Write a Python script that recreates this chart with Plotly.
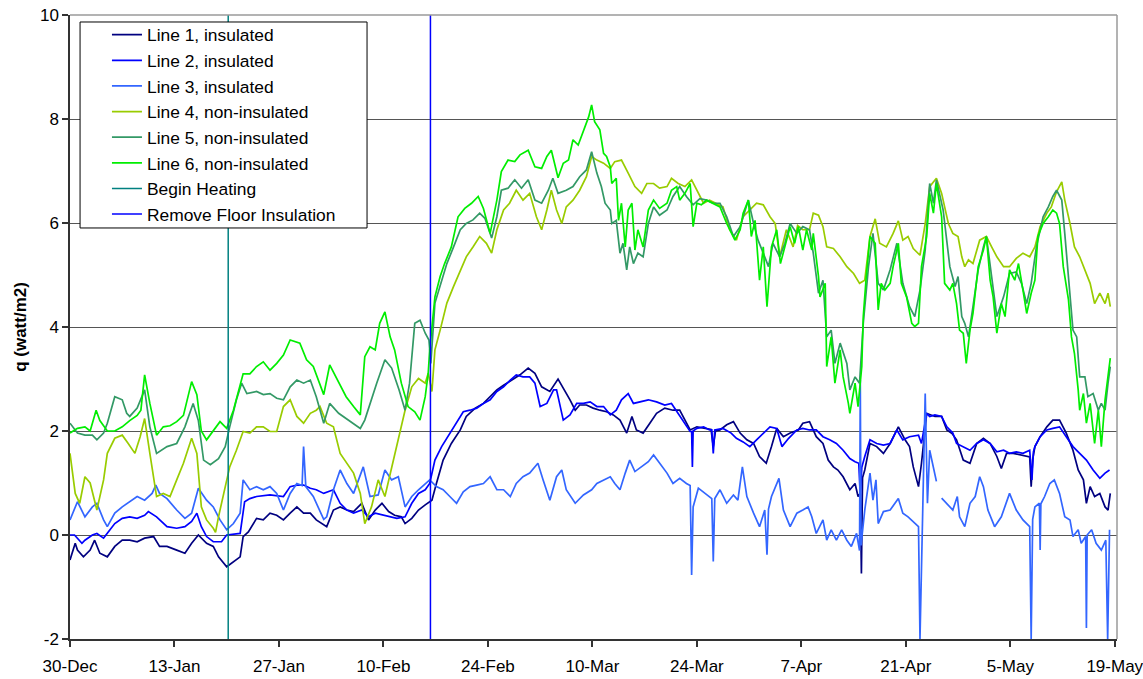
import pandas as pd
import plotly.graph_objects as go

# Heat flux through the floor, q (W/m2), per measurement line.
# Each series is a list of (days since 30-Dec, q) readings.
START = pd.Timestamp("2002-12-30")

line1 = [(0,-0.48),(0.7,-0.16),(1,-0.29),(1.8,-0.42),(2.7,-0.29),(3.3,-0.1),(4,-0.35),(5,-0.42),(6,-0.22),(7,-0.1),(8,-0.1),(9,-0.13),(10,-0.06),(11.2,-0.03),(12,-0.22),(13,-0.22),(14.3,-0.29),(15.4,-0.35),(16.3,-0.16),(17.2,0),(18.3,-0.16),(19.2,-0.22),(19.9,-0.42),(21,-0.61),(22.8,-0.42),(23.2,-0.03),(23.9,0.06),(25,0.32),(25.9,0.29),(26.8,0.42),(27.7,0.38),(28.6,0.29),(29.5,0.42),(30.4,0.54),(31.3,0.42),(32.2,0.42),(33,0.29),(34.4,0.16),(35.3,0.48),(36.2,0.54),(37.1,0.48),(38,0.45),(39.1,0.61),(40,0.29),(40.9,0.48),(41.8,0.61),(42.7,0.45),(43.5,0.38),(44.4,0.35),(44.9,0.22),(45.8,0.32),(46.7,0.48),(47.6,0.58),(48.5,0.67),(49.1,0.99),(50,1.44),(51.1,1.76),(52.3,2.02),(53.1,2.28),(54.3,2.44),(55.4,2.53),(56.3,2.66),(57.2,2.79),(58.1,2.88),(59.2,2.98),(60.3,3.08),(61.4,3.21),(62.3,3.11),(63.2,2.85),(64.3,2.76),(65.4,3.0),(66.3,2.79),(67,2.6),(67.7,2.4),(68.3,2.5),(69.2,2.5),(70.1,2.44),(71,2.4),(71.9,2.37),(72.8,2.31),(73.7,2.21),(74.6,1.96),(75.3,2.28),(75.9,2.02),(76.8,1.96),(77.7,2.15),(78.6,2.34),(79.7,2.44),(80.8,2.4),(81.7,2.4),(82.4,2.21),(83.1,2.02),(84,2.08),(84.9,2.05),(85.9,2.03),(86.2,1.7),(86.5,2.0),(87.1,2.02),(88,2.12),(88.9,2.18),(89.8,1.96),(90.7,1.83),(91.6,1.76),(92.4,1.51),(93.3,1.38),(94,1.7),(94.7,2.05),(95.6,1.89),(96.5,1.96),(97.6,2.02),(98.2,2.15),(99.1,2.18),(100,1.89),(100.9,1.76),(101.6,1.44),(102.3,1.31),(102.9,1.25),(103.6,1.12),(104.5,0.87),(105.2,0.99),(105.6,0.74),(105.9,0.8),(106.05,-0.74),(106.2,1.1),(106.5,1.25),(107.2,1.76),(108.1,1.7),(109,1.57),(109.9,1.76),(111,2.08),(111.9,1.83),(112.5,1.7),(113,1.31),(113.7,0.93),(114.1,1.38),(114.8,2.34),(115.9,2.28),(116.8,2.28),(117.5,2.02),(118.2,1.95),(118.8,1.83),(119.7,1.44),(120.6,1.38),(121.5,1.76),(122.4,1.86),(123.3,1.76),(124.2,1.51),(124.8,1.28),(125.5,1.57),(126.4,1.57),(127.3,1.54),(128.2,1.51),(128.6,1.5),(128.8,0.93),(129.0,1.45),(129.3,1.7),(130,1.89),(130.9,2.08),(131.7,2.21),(132.6,2.21),(133.5,1.96),(134.4,1.63),(135.1,1.25),(135.8,1.06),(136.2,0.61),(136.7,0.93),(137.3,0.74),(138,0.8),(138.7,0.54),(139.1,0.48),(139.4,0.8)]

line2 = [(0,0),(0.6,0),(1.6,-0.16),(2,-0.1),(3,0),(3.6,0.03),(4.5,-0.06),(5,0.03),(6,0.22),(7,0.32),(8,0.35),(9,0.32),(10,0.38),(10.5,0.45),(11.6,0.35),(13,0.16),(14.3,0.13),(15.4,0.16),(16.3,0.26),(17,0.42),(17.6,0.16),(18.3,-0.03),(19.2,-0.13),(20.3,-0.13),(21,0),(22.8,0.03),(23.4,0.64),(24.1,0.7),(25,0.74),(26.8,0.77),(28.6,0.74),(29.5,0.93),(30.4,0.96),(31.3,0.96),(32.2,0.9),(33,0.87),(34,0.8),(35.3,0.87),(36.2,0.61),(37.1,0.48),(38,0.42),(39.1,0.48),(40,0.35),(40.9,0.42),(42,0.38),(42.9,0.35),(43.8,0.32),(44.9,0.35),(45.8,0.61),(46.7,0.8),(47.6,0.87),(48.2,0.99),(48.9,1.44),(49.8,1.7),(50.9,1.96),(51.8,2.15),(52.7,2.37),(53.6,2.4),(54.5,2.44),(55.4,2.53),(56.3,2.6),(57.2,2.76),(58.1,2.85),(59,2.98),(59.8,3.08),(60.7,3.04),(61.6,3.04),(62.3,2.92),(63,2.47),(63.9,2.53),(64.8,2.79),(65.2,2.79),(66.1,2.21),(67,2.31),(67.9,2.53),(68.8,2.53),(69.7,2.56),(70.6,2.47),(71.5,2.47),(72.4,2.31),(73.2,2.4),(73.9,2.6),(74.8,2.72),(75.5,2.53),(76.4,2.56),(77.5,2.6),(78.6,2.56),(79.7,2.5),(80.6,2.53),(81.5,2.34),(82.4,2.15),(83.1,1.99),(83.3,1.99),(83.4,1.31),(83.5,2.0),(84,2.05),(84.9,2.08),(85.7,2.02),(86.0,2.02),(86.2,1.57),(86.4,2.02),(87.5,2.05),(88.6,1.96),(89.3,1.86),(90.2,1.79),(91.1,1.7),(92,1.83),(92.9,1.96),(93.8,2.08),(94.7,2.05),(95.4,1.7),(96.3,1.86),(97.4,2.02),(98.2,2.05),(99.1,2.02),(100,2.02),(100.9,1.89),(101.8,1.83),(102.7,1.76),(103.6,1.63),(104.5,1.47),(105.2,1.41),(105.7,1.38),(105.9,0.74),(106.1,1.3),(106.5,1.51),(107.2,1.83),(108.1,1.76),(109,1.73),(109.9,1.76),(110.8,2.02),(111.6,1.83),(112.5,1.89),(113.7,1.92),(114.1,1.76),(114.8,2.34),(115.2,2.28),(115.9,2.31),(116.8,2.28),(117.5,2.08),(118.3,1.96),(118.8,1.76),(119.7,1.7),(120.6,1.63),(121.5,1.76),(122.4,1.83),(123.3,1.76),(124.2,1.6),(125.1,1.63),(125.9,1.57),(126.8,1.6),(127.7,1.57),(128.6,1.63),(128.9,1.06),(129.1,1.6),(129.3,1.7),(130,1.89),(130.9,2.02),(131.7,2.05),(132.6,2.08),(133.5,1.89),(134.4,1.7),(135.3,1.57),(136.2,1.44),(137.1,1.25),(138,1.09),(138.7,1.19),(139.3,1.25)]

line3 = [(0,0.29),(1,0.64),(2,0.35),(3,0.54),(3.6,0.61),(4.5,0.29),(5,0.16),(6,0.42),(7,0.54),(8,0.64),(9,0.74),(10,0.67),(11,0.8),(11.5,0.96),(12,0.8),(13,0.7),(14.3,0.48),(15.4,0.32),(16.3,0.42),(17.2,0.9),(18.3,0.67),(19.2,0.54),(20.1,0.29),(21,0.1),(21.9,0.22),(22.8,0.42),(23.2,1.06),(24.1,0.87),(25,0.93),(25.9,0.87),(26.8,0.93),(27.7,0.8),(28.6,0.48),(29.5,0.8),(30.4,0.99),(31.1,0.95),(31.3,1.7),(31.6,0.93),(32.6,0.74),(34,0.3),(34.4,0.35),(35.3,0.87),(36.2,1.25),(37.1,0.99),(38,0.8),(39.3,1.31),(40.2,0.74),(41.3,0.77),(42.2,1.25),(43.1,1.06),(44,1.12),(44.9,0.54),(45.8,0.74),(46.7,0.87),(47.6,0.99),(48.2,1.06),(49.1,0.93),(50,0.87),(50.9,0.74),(51.8,0.61),(52.7,0.83),(53.6,0.93),(54.5,0.96),(55.4,0.99),(56.3,1.12),(57.2,0.87),(58.1,0.87),(59,0.74),(59.8,0.99),(60.7,1.12),(61.6,1.19),(62.7,1.38),(63.4,1.06),(64.3,0.67),(65.2,1.12),(65.9,1.25),(66.5,0.87),(67.7,0.61),(68.8,0.77),(69.9,0.87),(70.6,0.99),(71.5,1.06),(72.4,1.12),(73,0.99),(73.7,0.87),(74.4,1.19),(75,1.44),(75.7,1.22),(76.6,1.31),(77.5,1.41),(78.2,1.54),(79,1.38),(80,1.19),(80.8,0.99),(81.7,1.09),(82.6,0.99),(83.1,0.95),(83.3,-0.77),(83.5,0.54),(84.2,0.9),(85.3,0.77),(86.0,0.7),(86.2,-0.51),(86.4,0.7),(87.1,0.87),(88,0.61),(88.9,0.77),(89.5,0.67),(90.1,1.31),(90.7,0.74),(91.6,0.42),(92.4,0.16),(93.1,0.48),(93.4,-0.38),(93.6,0.5),(94,0.74),(95,1.09),(95.6,0.48),(96.5,0.16),(97.4,0.42),(98.2,0.48),(98.9,0.54),(99.4,0.35),(100,0.03),(100.9,0.29),(101.4,-0.1),(102,0.1),(102.7,-0.1),(103.4,0.1),(104.1,-0.1),(104.7,-0.22),(105.4,0.03),(105.8,-0.3),(105.9,2.98),(106.0,-0.2),(106.5,0.48),(107.2,1.19),(107.6,0.67),(108,1.06),(108.3,0.22),(109,0.45),(109.9,0.48),(111,0.7),(111.6,0.42),(112.3,0.35),(113,0.26),(113.7,0.16),(113.9,-2.0),(114.6,2.72),(114.9,0.61),(115.2,1.63),(116.1,1.03),(116.4,None),(116.8,0.71),(117.5,0.61),(118.3,0.48),(118.9,0.74),(119.2,0.35),(119.9,0.16),(120.6,0.61),(121.3,0.74),(121.9,1.12),(122.4,0.93),(123,0.48),(123.9,0.16),(124.8,0.35),(125.9,0.8),(126.8,0.48),(127.7,0.29),(128.6,0.16),(128.8,-2.0),(129.0,0.3),(129.3,0.54),(129.9,0.61),(130.0,-0.29),(130.1,0.6),(130.6,0.74),(131.3,0.99),(131.9,1.06),(132.6,0.8),(133.3,0.35),(134,0.29),(134.4,-0.03),(135.1,0.1),(135.5,-0.16),(136.1,-0.03),(136.2,-1.79),(136.3,0.0),(136.9,0.1),(137.5,-0.16),(138.2,-0.29),(138.8,-0.1),(139.05,-2.0),(139.3,0.1)]

line4 = [(0,1.57),(0.7,0.8),(1.3,0.61),(2,1.12),(2.7,1.0),(3.6,0.48),(4.5,1.06),(5,1.57),(6,1.86),(7,1.92),(7.8,1.76),(8.7,1.57),(9.4,1.89),(10,2.24),(10.7,1.57),(11.6,0.74),(12.5,0.8),(13.4,0.74),(14.3,1.06),(15.2,1.38),(16.3,1.86),(17,1.57),(17.6,0.54),(18.3,0.29),(19.2,0.13),(19.5,0.05),(19.9,0.35),(20.8,0.93),(21.4,1.31),(22.3,1.63),(23.2,1.99),(24.1,1.96),(25,2.08),(25.9,2.08),(26.8,1.99),(27.7,1.99),(28.6,2.47),(29.5,2.6),(30.4,2.28),(31.3,2.15),(32.2,2.34),(33,2.4),(33.5,2.47),(34.4,2.15),(35.3,2.08),(36.2,1.57),(37.1,1.38),(38,1.19),(38.9,0.8),(39.5,0.22),(40.4,0.54),(41.3,1.06),(42.2,0.74),(43.1,1.31),(44,1.83),(44.9,2.4),(45.8,2.85),(46.7,3.01),(47.6,2.92),(48,3.11),(48.5,2.76),(48.9,3.56),(49.6,3.94),(50.5,4.46),(51.4,4.78),(52.3,5.1),(53.1,5.35),(54,5.54),(54.9,5.74),(55.8,5.61),(56.5,5.42),(57.2,5.87),(58.1,6.25),(58.9,6.38),(59.8,6.63),(60.7,6.44),(61.6,6.57),(62.5,6.12),(63.2,5.87),(63.9,6.25),(64.5,6.63),(65.2,6.25),(65.9,5.99),(66.5,6.31),(67.4,6.44),(68.3,6.63),(69.2,6.89),(69.9,7.28),(70.6,7.21),(71.5,7.15),(72.4,7.05),(73,7.18),(73.9,7.21),(74.8,6.96),(75.7,6.7),(76.6,6.57),(77.3,6.76),(78.2,6.76),(79,6.67),(80,6.7),(80.6,6.86),(81.5,6.76),(82.4,6.7),(83.3,6.83),(84,6.63),(84.9,6.38),(85.7,6.44),(86.6,6.38),(87.5,6.31),(88.4,5.87),(89.3,5.67),(90.2,6.12),(91.1,6.25),(92,6.38),(92.9,6.35),(93.8,6.12),(94.5,5.99),(95.1,5.35),(96,5.87),(96.9,5.54),(97.5,5.95),(98.2,5.87),(99.1,5.87),(99.6,6.19),(100.3,6.15),(100.9,5.93),(101.4,5.54),(102.3,5.51),(103.2,5.35),(104.1,5.16),(105,5.03),(105.8,4.84),(106.5,4.9),(107.2,5.74),(107.9,6.08),(108.5,5.61),(109.4,5.54),(110.3,5.8),(111,6.04),(111.6,5.67),(112.3,5.74),(113,5.51),(113.9,5.38),(114.6,5.99),(115.2,6.7),(116.1,6.86),(116.8,6.57),(117.7,5.99),(118.3,5.8),(119,5.74),(119.5,5.35),(119.9,5.16),(120.4,5.29),(121,5.22),(121.9,5.67),(122.8,5.74),(123.5,5.54),(124.2,5.35),(125.1,5.16),(125.9,5.16),(126.8,5.32),(127.7,5.42),(128.6,5.35),(129.3,5.54),(130,5.93),(130.9,6.19),(131.5,6.31),(132.2,6.6),(132.9,6.79),(133.3,6.44),(134,5.99),(134.6,5.54),(135.3,5.35),(136,5.1),(136.7,4.84),(137.3,4.45),(138,4.65),(138.7,4.45),(139.1,4.65),(139.4,4.39)]

line5 = [(0,2.15),(1,1.96),(2,1.92),(3,1.92),(3.6,1.83),(4.5,1.96),(5,2.15),(6,2.66),(7,2.6),(7.6,2.34),(8,2.28),(9,2.44),(10,2.79),(10.7,2.08),(11.6,1.57),(13,1.7),(14.3,1.76),(15.4,2.08),(16.5,2.53),(17.2,2.2),(17.9,1.44),(18.8,1.35),(19.9,1.47),(20.8,1.7),(21.4,2.08),(22.3,2.6),(23,2.92),(23.7,2.72),(25,2.76),(25.9,2.7),(26.8,2.72),(27.7,2.63),(28.6,2.6),(29.5,2.85),(30.4,2.98),(31.3,2.92),(32.2,2.98),(33,2.66),(34,2.15),(34.8,2.53),(36,2.34),(37,2.24),(38,2.15),(38.9,2.05),(39.5,2.21),(40.2,2.53),(41.1,2.92),(42.2,3.37),(43.1,3.21),(44.1,2.79),(44.9,2.4),(45.5,2.92),(46.2,4.07),(46.9,4.13),(47.6,3.88),(48.1,3.75),(48.35,3.3),(48.9,4.46),(49.6,4.78),(50.5,5.22),(51.4,5.54),(52.3,5.87),(53.1,5.99),(54,6.06),(54.9,6.19),(55.6,6.09),(56.5,5.71),(57.2,6.12),(57.8,6.63),(58.7,6.67),(59.6,6.83),(60.5,6.67),(61.4,6.83),(62.3,6.44),(63.2,6.38),(64.1,6.63),(64.7,6.86),(65.4,6.57),(66.5,6.63),(67.4,6.7),(68.3,6.89),(69.2,7.02),(69.9,7.37),(70.6,6.96),(71.2,6.7),(71.7,6.38),(72.4,6.25),(72.6,5.99),(73.2,6.05),(73.7,5.42),(74.1,5.61),(74.6,5.1),(75,5.54),(75.5,5.22),(76.1,5.42),(76.8,5.35),(77.5,5.99),(78.2,6.31),(79,6.15),(80,6.25),(80.8,6.51),(81.7,6.7),(82.6,6.51),(83.5,6.35),(84.4,6.47),(85.3,6.44),(86.2,6.38),(87.1,6.38),(88,6.12),(88.9,5.74),(89.8,5.93),(90.9,6.44),(91.6,5.99),(92.2,5.67),(92.9,5.42),(93.6,5.16),(94.2,5.61),(95.1,5.35),(95.8,5.61),(96.5,5.99),(97.4,5.8),(98.2,5.93),(99.1,5.87),(99.6,5.42),(100.3,4.65),(100.9,4.9),(101.4,3.81),(102,3.94),(102.5,3.3),(103.2,3.69),(104.1,3.3),(104.5,2.79),(105.2,3.04),(105.8,2.92),(106.3,4.07),(107,5.16),(107.6,5.8),(108.3,4.84),(109,4.71),(109.9,5.1),(110.8,5.61),(111.6,4.84),(112.5,4.39),(113.2,4.2),(113.9,4.71),(114.6,5.48),(115.2,6.76),(115.7,6.38),(116.1,6.83),(117,6.25),(117.9,5.16),(118.6,4.78),(119,4.97),(119.5,4.2),(119.9,4.07),(120.4,3.81),(121,4.39),(121.7,5.1),(122.4,5.54),(122.8,5.74),(123.5,4.97),(124.2,4.2),(125.1,4.58),(125.9,5.03),(126.8,5.06),(127.5,4.84),(128.2,4.45),(128.8,4.84),(129.5,5.54),(130.4,6.12),(131.1,6.31),(131.7,6.51),(132.2,6.63),(132.9,6.44),(133.3,5.8),(134,4.71),(134.4,3.94),(134.9,3.81),(135.3,3.04),(136,3.04),(136.4,2.66),(137.1,2.72),(137.8,2.4),(138.2,2.53),(138.7,2.4),(139.1,2.92),(139.4,3.24)]

line6 = [(0,1.96),(1,2.05),(2,2.08),(2.7,2.0),(3.5,2.4),(4,2.2),(5,2.0),(6,2.0),(7,2.08),(8,2.2),(9,2.3),(9.5,2.4),(10,3.08),(10.7,2.53),(11.6,1.92),(12.5,2.08),(13.4,2.1),(14.3,2.18),(15.2,2.3),(16.3,2.95),(17,2.7),(17.6,2.0),(18.3,1.83),(19.2,2.0),(20.1,2.18),(21,2.05),(21.9,2.4),(23.2,3.1),(24.1,3.1),(25,3.24),(25.9,3.33),(26.8,3.17),(27.7,3.3),(28.6,3.46),(29.5,3.75),(30.8,3.69),(31.7,3.37),(32.6,3.24),(33.3,2.98),(34,2.7),(34.8,3.27),(36,2.92),(37,2.66),(38,2.47),(38.9,2.31),(39.5,3.43),(40.2,3.62),(40.9,3.56),(41.5,4.07),(42.2,4.29),(42.9,3.81),(43.5,3.56),(44.4,2.92),(45.3,2.47),(46.2,2.37),(46.9,2.21),(47.6,2.66),(48,3.11),(48.2,3.56),(48.9,4.58),(49.6,4.97),(50.2,5.22),(51.1,5.54),(52,6.12),(52.9,6.28),(53.8,6.38),(54.7,6.51),(55.4,6.28),(56.3,5.8),(57.2,6.44),(57.8,6.99),(58.7,7.21),(59.6,7.18),(60.3,7.31),(61.4,7.4),(62.3,7.08),(63.2,7.05),(63.9,7.28),(64.5,7.4),(65.4,6.87),(66.1,7.15),(66.8,7.21),(67.4,7.6),(68.1,7.5),(68.8,7.79),(69.5,8.04),(69.9,8.27),(70.3,7.95),(71,7.79),(71.5,7.34),(71.9,7.28),(72.4,7.08),(72.6,6.76),(73.2,6.86),(73.5,6.05),(73.9,6.38),(74.4,5.54),(74.8,6.25),(75.3,6.38),(75.7,5.48),(76.1,5.87),(76.8,5.54),(77.5,6.25),(78.2,6.44),(79,6.28),(80,6.38),(80.6,6.63),(81.3,6.7),(81.7,6.44),(82.4,6.57),(83.1,6.76),(83.5,5.93),(84,6.38),(84.6,6.35),(85.3,6.44),(86.2,6.38),(87.1,6.31),(88,5.99),(88.7,5.8),(89.1,5.67),(89.8,5.87),(90.2,6.19),(90.9,6.44),(91.3,5.74),(91.8,6.05),(92.4,4.9),(92.9,5.54),(93.4,4.39),(94,5.54),(94.7,5.87),(95.2,5.22),(95.8,5.54),(96.5,5.93),(97.1,5.61),(97.6,5.93),(98.2,5.48),(98.7,5.87),(99.4,5.48),(99.6,5.8),(100.3,4.97),(100.5,4.58),(101.2,4.84),(101.4,3.24),(102,3.81),(102.5,2.92),(103.2,3.56),(103.6,3.04),(104.3,2.53),(104.5,2.34),(105.2,2.92),(105.6,2.47),(106.1,3.24),(106.3,4.2),(106.7,4.97),(107.2,5.74),(107.9,5.61),(108.3,4.33),(108.7,4.84),(109.2,4.71),(109.9,4.84),(110.3,5.16),(111,5.61),(111.4,4.84),(112.1,4.58),(112.8,4.07),(113.2,4.01),(113.7,4.07),(114.1,5.16),(114.8,5.74),(115.2,6.57),(115.7,6.19),(116.1,6.76),(116.8,6.12),(117.2,4.84),(117.9,4.71),(118.3,4.84),(118.8,4.45),(119.2,3.94),(119.7,3.88),(120.1,3.3),(120.6,3.94),(121,4.26),(121.7,5.16),(122.4,5.48),(122.8,5.74),(123.3,4.9),(123.7,4.58),(124.2,3.88),(124.8,4.45),(125.3,4.2),(125.9,5.1),(126.6,4.9),(127.1,5.22),(127.7,4.71),(128.2,4.26),(128.8,4.65),(129.3,4.9),(129.7,5.74),(130.4,5.99),(131.1,6.12),(131.7,6.25),(132.2,6.19),(132.6,5.99),(133.1,5.16),(133.8,4.52),(134.2,3.81),(134.6,3.49),(135.1,2.79),(135.3,2.4),(135.8,2.72),(136.2,2.15),(136.7,2.53),(137.3,1.76),(137.8,2.4),(138.2,1.7),(138.7,2.6),(139.1,3.04),(139.4,3.4)]

# Events (days since 30-Dec)
heating_day = 21.2
removal_day = 48.3

Y_MIN, Y_MAX = -2, 10
Y_TICKS = [-2, 0, 2, 4, 6, 8, 10]
X_END_DAY = 140.3

series = [
    ("Line 1, insulated", line1, "#000080"),
    ("Line 2, insulated", line2, "#0000FF"),
    ("Line 3, insulated", line3, "#3366FF"),
    ("Line 4, non-insulated", line4, "#99CC00"),
    ("Line 5, non-insulated", line5, "#339966"),
    ("Line 6, non-insulated", line6, "#00EE00"),
]
events = [
    ("Begin Heating", heating_day, "#008080"),
    ("Remove Floor Insulation", removal_day, "#0000FF"),
]

FONT = "Liberation Sans, Arial, sans-serif"


def to_dates(days):
    return START + pd.to_timedelta(days, unit="D")


fig = go.Figure()
for name, pts, color in series:
    days = [p[0] for p in pts]
    q = [p[1] for p in pts]
    fig.add_trace(go.Scatter(
        x=to_dates(days), y=q, mode="lines", name=name,
        line=dict(color=color, width=1.7), connectgaps=False,
    ))
for name, day, color in events:
    fig.add_trace(go.Scatter(
        x=to_dates([day, day]), y=[Y_MIN, Y_MAX], mode="lines", name=name,
        line=dict(color=color, width=1.5),
    ))

# plot frame (top/right) and legend box
shapes = [
    dict(type="line", xref="paper", yref="paper", x0=0, x1=1, y0=1, y1=1,
         line=dict(color="#9a9a9a", width=1.5), layer="above"),
    dict(type="line", xref="paper", yref="paper", x0=1, x1=1, y0=0, y1=1,
         line=dict(color="#9a9a9a", width=1.5), layer="above"),
    dict(type="rect", xref="paper", yref="paper",
         x0=0.0096, x1=0.2837, y0=0.6587, y1=0.9888,
         line=dict(color="black", width=1), fillcolor="white", layer="above"),
]

fig.update_layout(
    width=1143, height=679,
    margin=dict(l=70, r=26, t=15, b=40, autoexpand=False),
    paper_bgcolor="white", plot_bgcolor="white",
    font=dict(family=FONT, size=17, color="black"),
    showlegend=True,
    legend=dict(
        x=0.0353, y=0.997, xanchor="left", yanchor="top",
        bgcolor="rgba(0,0,0,0)", borderwidth=0,
        font=dict(family=FONT, size=17.4, color="black"),
        itemwidth=30, tracegroupgap=0,
    ),
    shapes=shapes,
    xaxis=dict(
        type="date", automargin=False,
        range=[to_dates([0])[0], to_dates([X_END_DAY])[0]],
        tick0=START, dtick=14 * 86400000, tickformat="%-d-%b",
        ticks="outside", ticklen=6, tickcolor="#333333", tickwidth=1.5,
        showline=True, linecolor="#333333", linewidth=1.5,
        showgrid=False, zeroline=False, ticklabelstandoff=5,
        ticklabeloverflow="allow",
        tickfont=dict(family=FONT, size=17, color="black"),
    ),
    yaxis=dict(
        automargin=False,
        range=[Y_MIN, Y_MAX],
        tickmode="array", tickvals=Y_TICKS, ticktext=[str(v) for v in Y_TICKS],
        ticks="outside", ticklen=6, tickcolor="#333333", tickwidth=1.5,
        showline=True, linecolor="#333333", linewidth=1.5,
        showgrid=True, gridcolor="#555555", gridwidth=1, zeroline=False,
        tickfont=dict(family=FONT, size=17, color="black"),
        title=dict(text="<b>q (watt/m2)</b>", standoff=9,
                   font=dict(family=FONT, size=17, color="black")),
    ),
)

fig.write_html("out.html")
